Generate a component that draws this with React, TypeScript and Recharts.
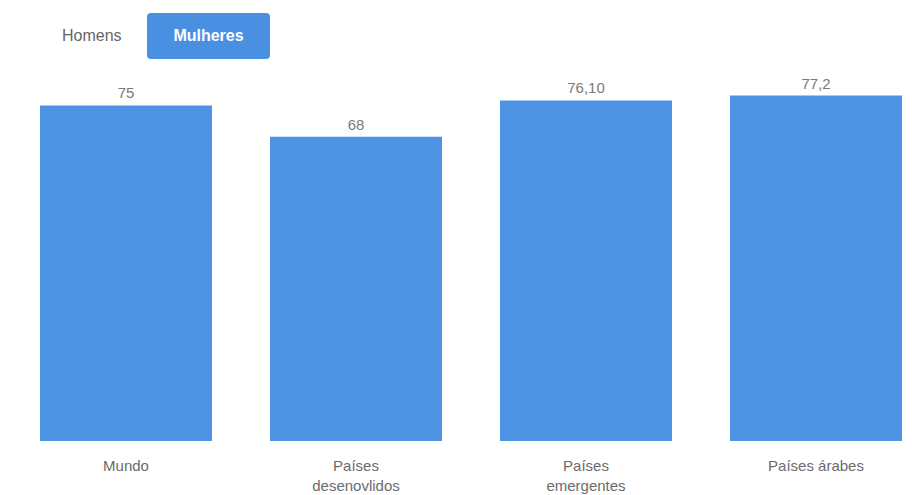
import { BarChart, Bar, XAxis, YAxis, LabelList } from "recharts"

const categories = ["Mundo", "Países desenovlidos", "Países emergentes", "Países árabes"]
const values = [75, 68, 76.1, 77.2]
const valueLabels = ["75", "68", "76,10", "77,2"]
const tabs = ["Homens", "Mulheres"]

const FONT = "'Liberation Sans', Arial, sans-serif"

const data = categories.map((name, i) => ({ name, value: values[i], label: valueLabels[i] }))

function WrappedTick({ x, y, payload }: any) {
  const words = String(payload.value).split(" ")
  const lines = words.length > 1 && payload.value !== "Países árabes" ? words : [payload.value]
  return (
    <text x={x} y={y} textAnchor="middle" fill="#6b6b6b" fontSize={15} fontFamily={FONT}>
      {lines.map((l: string, i: number) => (
        <tspan key={i} x={x} dy={i === 0 ? 22 : 20}>
          {l}
        </tspan>
      ))}
    </text>
  )
}

export default function App() {
  return (
    <div
      style={{
        position: "absolute",
        left: 0,
        top: 0,
        width: 912,
        height: 495,
        overflow: "hidden",
        background: "#fff",
        fontFamily: FONT,
      }}
    >
      {/* tabs */}
      <div style={{ position: "absolute", left: 62, top: 13, display: "flex", alignItems: "center" }}>
        <div style={{ fontSize: 16, color: "#666", width: 85 }}>{tabs[0]}</div>
        <div
          style={{
            background: "#4a90e2",
            color: "#fff",
            fontSize: 16,
            fontWeight: 700,
            borderRadius: 4,
            width: 123,
            height: 46,
            display: "flex",
            alignItems: "center",
            justifyContent: "center",
          }}
        >
          {tabs[1]}
        </div>
      </div>

      <div style={{ position: "absolute", left: 0, top: 0 }}>
        <BarChart
          width={932}
          height={495}
          data={data}
          margin={{ top: 83, right: 1, bottom: 4, left: 11 }}
          barCategoryGap={29}
        >
          <XAxis
            dataKey="name"
            axisLine={false}
            tickLine={false}
            height={50}
            interval={0}
            tick={<WrappedTick />}
          />
          <YAxis hide domain={[0, 80]} />
          <Bar dataKey="value" fill="#4d93e3" isAnimationActive={false}>
            <LabelList
              dataKey="label"
              position="top"
              offset={7}
              fill="#7a7a7a"
              fontSize={15}
              fontFamily={FONT}
            />
          </Bar>
        </BarChart>
      </div>
    </div>
  )
}
